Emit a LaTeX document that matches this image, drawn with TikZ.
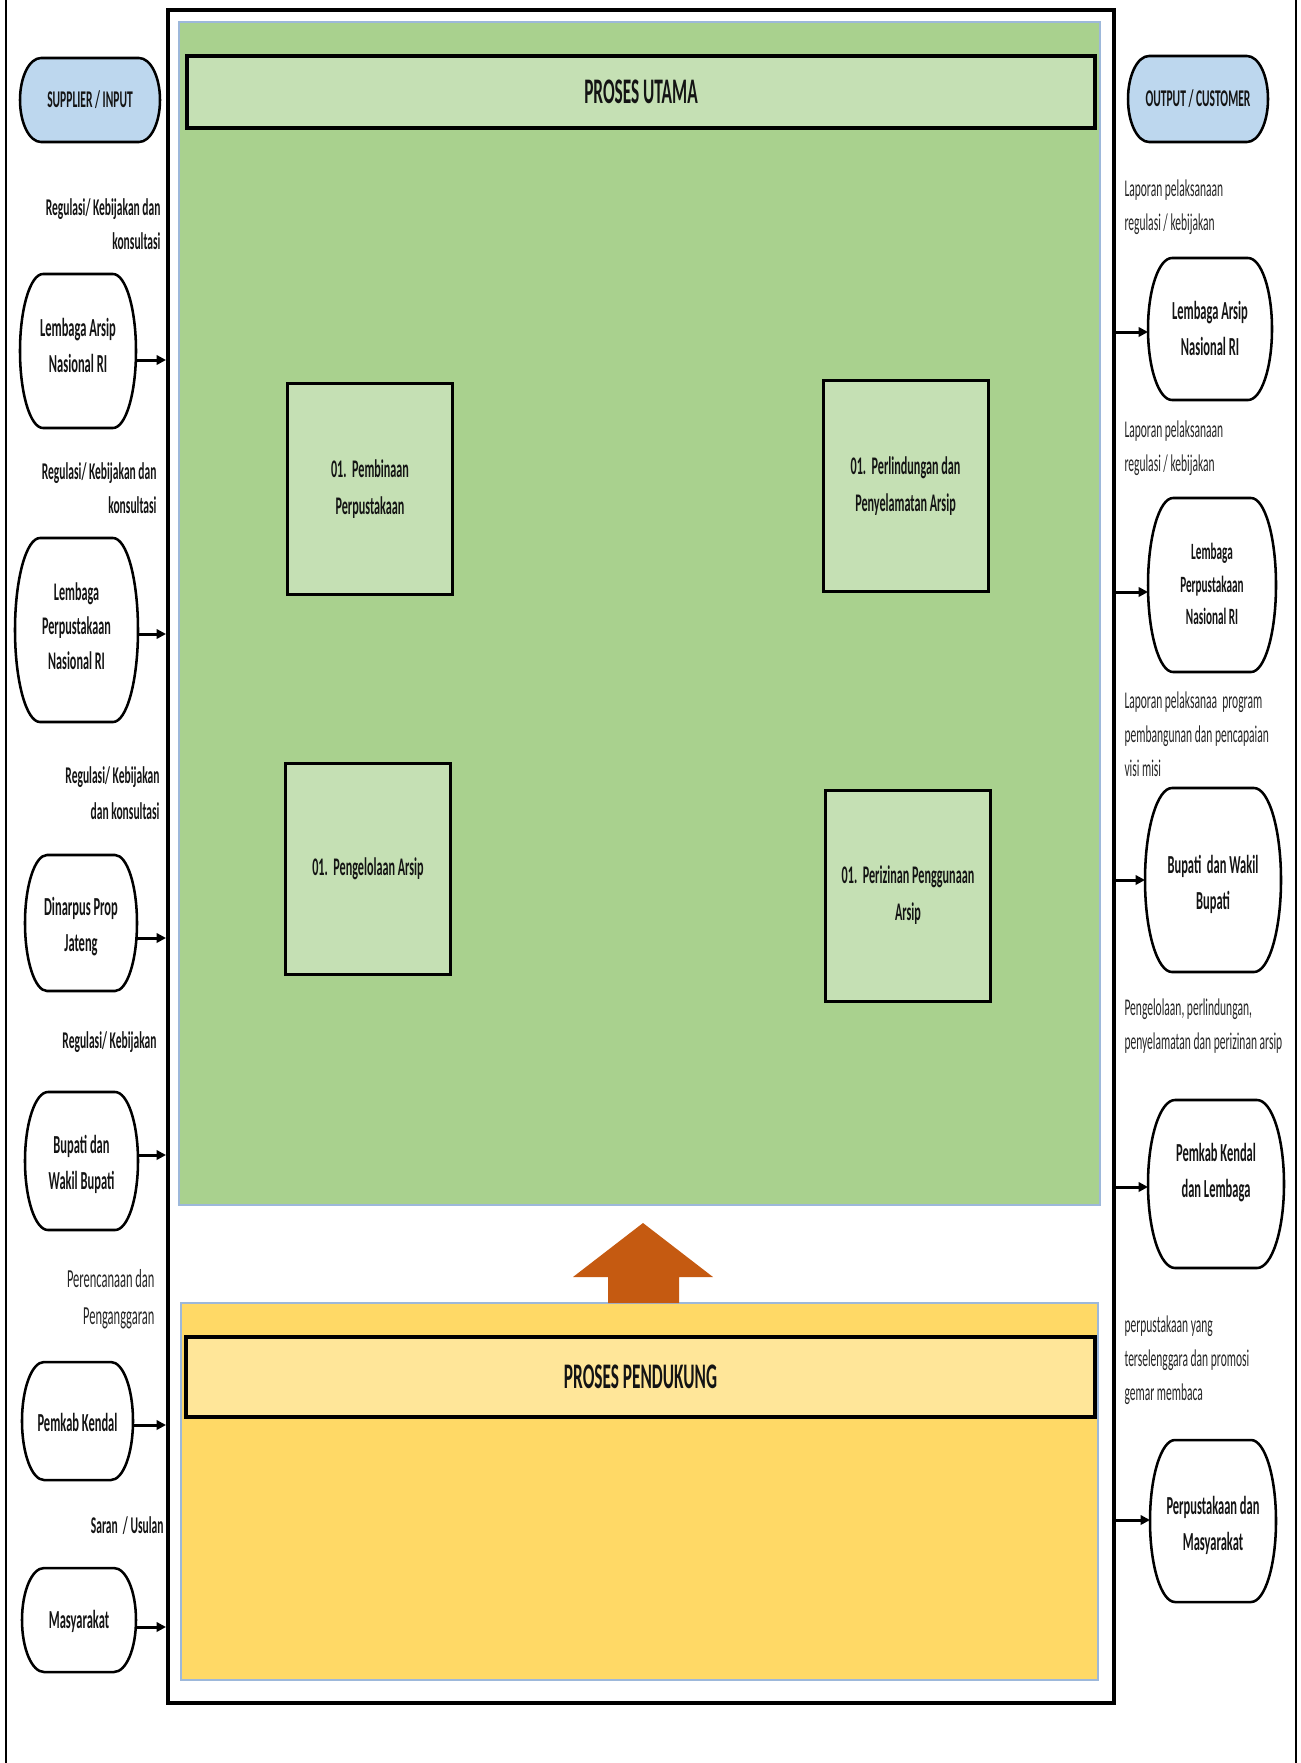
\documentclass[tikz,border=0pt]{standalone}
\usepackage{fontspec}
\setmainfont{Carlito}[FakeStretch=0.48]
\usetikzlibrary{arrows.meta}

\definecolor{areaGreen}{HTML}{A9D18E}
\definecolor{lightGreen}{HTML}{C5E0B4}
\definecolor{areaYellow}{HTML}{FFD966}
\definecolor{lightYellow}{HTML}{FFE699}
\definecolor{termBlue}{HTML}{BDD7EE}
\definecolor{upOrange}{HTML}{C55A11}
\definecolor{edgeBlue}{HTML}{9DB8DA}
\definecolor{noteGray}{HTML}{262626}

\tikzset{every picture/.style={line width=0.75pt}}
\tikzset{
  termline/.style={draw=black, line width=1.9pt, fill=white},
  termtext/.style={inner sep=0pt, outer sep=0pt, align=center, text=black!92, font=\bfseries\fontsize{19.5}{27}\selectfont},
  procbox/.style={draw=black, line width=2.25pt, fill=lightGreen, minimum width=123.75pt, minimum height=158.25pt, inner sep=0pt, align=center, text=black!92, font=\bfseries\fontsize{19}{27.75}\selectfont},
  hdr/.style={draw=black, line width=3pt, inner sep=0pt, text=black!92, font=\bfseries\fontsize{27}{32}\selectfont},
  inlbl/.style={anchor=east, inner sep=0pt, align=right, text=black!92, font=\bfseries\fontsize{18}{26}\selectfont},
  outlbl/.style={anchor=west, inner sep=0pt, align=left, text=noteGray, font=\fontsize{18}{25.5}\selectfont},
  flow/.style={-{Triangle[length=7pt,width=7pt]}, line width=2.25pt}
}

\begin{document}
\begin{tikzpicture}[x=0.75pt,y=0.75pt,yscale=-1,xscale=1]
\useasboundingbox (0,0) rectangle (1301,1763);

%Straight Lines
\draw [line width=1.5pt]   (6,0) -- (6,1763) ;
%Straight Lines
\draw [line width=1.5pt]   (1296,0) -- (1296,1763) ;
%Shape: Rectangle
\draw [line width=3pt]   (168,10) rectangle (1114,1703) ;
%Shape: Rectangle
\draw [draw=edgeBlue, fill=areaGreen, line width=1pt]   (179,22) rectangle (1100,1205) ;
%Shape: Rectangle
\draw [draw=edgeBlue, fill=areaYellow, line width=1pt]   (181,1303) rectangle (1098,1680) ;
%Shape: Arrow
\fill [upOrange]   (608,1303) -- (608,1277) -- (573,1277) -- (643,1223) -- (713,1277) -- (679,1277) -- (679,1303) -- cycle ;

% Header Node
\node [hdr, fill=lightGreen, minimum width=681pt, minimum height=54pt] (hdrUtama) at (641,92) {PROSES UTAMA};
% Header Node
\node [hdr, fill=lightYellow, minimum width=681.75pt, minimum height=60pt] (hdrPendukung) at (640.5,1377) {PROSES PENDUKUNG};

% Process Node
\node [procbox] (bxPembinaan) at (370,489) {01.\ \ Pembinaan\\Perpustakaan};
% Process Node
\node [procbox] (bxPerlindungan) at (905.5,486) {01.\ \ Perlindungan dan\\Penyelamatan Arsip};
% Process Node
\node [procbox] (bxPengelolaan) at (368,869) {01.\ \ Pengelolaan Arsip};
% Process Node
\node [procbox] (bxPerizinan) at (908,895.5) {01.\ \ Perizinan Penggunaan\\Arsip};

%Flowchart: Terminator
\draw [termline, fill=termBlue]   (41,58) -- (139,58) arc[start angle=-90, end angle=90, x radius=21, y radius=42] -- (41,142) arc[start angle=90, end angle=270, x radius=21, y radius=42] -- cycle ;
%Flowchart: Terminator
\draw [termline]   (43,274) -- (113,274) arc[start angle=-90, end angle=90, x radius=23, y radius=77] -- (43,428) arc[start angle=90, end angle=270, x radius=23, y radius=77] -- cycle ;
%Flowchart: Terminator
\draw [termline]   (40,538) -- (113,538) arc[start angle=-90, end angle=90, x radius=25, y radius=92] -- (40,722) arc[start angle=90, end angle=270, x radius=25, y radius=92] -- cycle ;
%Flowchart: Terminator
\draw [termline]   (47,855) -- (115,855) arc[start angle=-90, end angle=90, x radius=22, y radius=68] -- (47,991) arc[start angle=90, end angle=270, x radius=22, y radius=68] -- cycle ;
%Flowchart: Terminator
\draw [termline]   (48,1092) -- (115,1092) arc[start angle=-90, end angle=90, x radius=23, y radius=69] -- (48,1230) arc[start angle=90, end angle=270, x radius=23, y radius=69] -- cycle ;
%Flowchart: Terminator
\draw [termline]   (44,1362) -- (111,1362) arc[start angle=-90, end angle=90, x radius=22, y radius=59] -- (44,1480) arc[start angle=90, end angle=270, x radius=22, y radius=59] -- cycle ;
%Flowchart: Terminator
\draw [termline]   (44,1568) -- (114,1568) arc[start angle=-90, end angle=90, x radius=22, y radius=52] -- (44,1672) arc[start angle=90, end angle=270, x radius=22, y radius=52] -- cycle ;

%Flowchart: Terminator
\draw [termline, fill=termBlue]   (1149,56) -- (1247,56) arc[start angle=-90, end angle=90, x radius=21, y radius=43] -- (1149,142) arc[start angle=90, end angle=270, x radius=21, y radius=43] -- cycle ;
%Flowchart: Terminator
\draw [termline]   (1172,258) -- (1248,258) arc[start angle=-90, end angle=90, x radius=24, y radius=71] -- (1172,400) arc[start angle=90, end angle=270, x radius=24, y radius=71] -- cycle ;
%Flowchart: Terminator
\draw [termline]   (1173,498) -- (1251,498) arc[start angle=-90, end angle=90, x radius=25, y radius=87] -- (1173,672) arc[start angle=90, end angle=270, x radius=25, y radius=87] -- cycle ;
%Flowchart: Terminator
\draw [termline]   (1172,788) -- (1254,788) arc[start angle=-90, end angle=90, x radius=27, y radius=92] -- (1172,972) arc[start angle=90, end angle=270, x radius=27, y radius=92] -- cycle ;
%Flowchart: Terminator
\draw [termline]   (1175,1100) -- (1257,1100) arc[start angle=-90, end angle=90, x radius=27, y radius=84] -- (1175,1268) arc[start angle=90, end angle=270, x radius=27, y radius=84] -- cycle ;
%Flowchart: Terminator
\draw [termline]   (1175,1440) -- (1251,1440) arc[start angle=-90, end angle=90, x radius=25, y radius=81] -- (1175,1602) arc[start angle=90, end angle=270, x radius=25, y radius=81] -- cycle ;

% Supplier Nodes
\node [termtext, minimum width=105pt, minimum height=63pt, font=\bfseries\fontsize{18}{27}\selectfont] (inSupplier) at (90,100) {SUPPLIER / INPUT};
\node [termtext, minimum width=87pt, minimum height=115.5pt] (inLanri) at (78,345) {Lembaga Arsip\\Nasional RI};
\node [termtext, minimum width=92.25pt, minimum height=138pt, font=\bfseries\fontsize{19}{26}\selectfont] (inLpnri) at (76.5,626) {Lembaga\\Perpustakaan\\Nasional RI};
\node [termtext, minimum width=84pt, minimum height=102pt] (inDinarpus) at (81,927) {Dinarpus Prop\\Jateng};
\node [termtext, minimum width=84.75pt, minimum height=103.5pt] (inBupati) at (81.5,1164) {Bupati dan\\Wakil Bupati};
\node [termtext, minimum width=83.25pt, minimum height=88.5pt] (inPemkab) at (77.5,1422) {Pemkab Kendal};
\node [termtext, minimum width=85.5pt, minimum height=78pt] (inMasyarakat) at (79,1621) {Masyarakat};

% Customer Nodes
\node [termtext, minimum width=105pt, minimum height=64.5pt, font=\bfseries\fontsize{18}{27}\selectfont] (outCustomer) at (1198,99) {OUTPUT / CUSTOMER};
\node [termtext, minimum width=93pt, minimum height=106.5pt] (outLanri) at (1210,328) {Lembaga Arsip\\Nasional RI};
\node [termtext, minimum width=96pt, minimum height=130.5pt, font=\bfseries\fontsize{17.5}{24.4}\selectfont] (outLpnri) at (1212,584) {Lembaga\\Perpustakaan\\Nasional RI};
\node [termtext, minimum width=102pt, minimum height=138pt] (outBupati) at (1213,884.5) {Bupati\ \ dan Wakil\\Bupati};
\node [termtext, minimum width=102pt, minimum height=126pt] (outPemkab) at (1216,1173) {Pemkab Kendal\\dan Lembaga};
\node [termtext, minimum width=94.5pt, minimum height=121.5pt] (outPerpus) at (1213,1525) {Perpustakaan dan\\Masyarakat};

% Text Node
\node [inlbl] (lblIn1) at (161,224) {Regulasi/ Kebijakan dan\\konsultasi};
% Text Node
\node [inlbl] (lblIn2) at (157,488) {Regulasi/ Kebijakan dan\\konsultasi};
% Text Node
\node [inlbl, font=\bfseries\fontsize{18}{27}\selectfont] (lblIn3) at (160,793) {Regulasi/ Kebijakan\\dan konsultasi};
% Text Node
\node [inlbl] (lblIn4) at (157,1042) {Regulasi/ Kebijakan};
% Text Node
\node [inlbl, text=noteGray, font=\fontsize{19.5}{27.75}\selectfont] (lblIn5) at (155,1299) {Perencanaan dan\\Penganggaran};
% Text Node
\node [inlbl] (lblIn6) at (164,1525.5) {Saran\ \ / Usulan};

% Text Node
\node [outlbl] (lblOut1) at (1124,207) {Laporan pelaksanaan\\regulasi / kebijakan};
% Text Node
\node [outlbl] (lblOut2) at (1124,448.5) {Laporan pelaksanaan\\regulasi / kebijakan};
% Text Node
\node [outlbl] (lblOut3) at (1124,734) {Laporan pelaksanaa\ \ program\\pembangunan dan pencapaian\\visi misi};
% Text Node
\node [outlbl] (lblOut4) at (1124,1026.5) {Pengelolaan, perlindungan,\\penyelamatan dan perizinan arsip};
% Text Node
\node [outlbl] (lblOut5) at (1124,1360.5) {perpustakaan yang\\terselenggara dan promosi\\gemar membaca};

% Frame entry points
\coordinate (inLanriIn) at (166,360);
\coordinate (inLpnriIn) at (166,634);
\coordinate (inDinarpusIn) at (166,938);
\coordinate (inBupatiIn) at (166,1155);
\coordinate (inPemkabIn) at (166,1425);
\coordinate (inMasyarakatIn) at (166,1627);
\coordinate (outLanriOut) at (1116,332);
\coordinate (outLpnriOut) at (1116,592);
\coordinate (outBupatiOut) at (1116,880);
\coordinate (outPemkabOut) at (1116,1187);
\coordinate (outPerpusOut) at (1116,1520);

%Straight Lines
\draw [flow]   (inLanri.east |- inLanriIn) -- (inLanriIn) ;
\draw [flow]   (inLpnri.east |- inLpnriIn) -- (inLpnriIn) ;
\draw [flow]   (inDinarpus.east |- inDinarpusIn) -- (inDinarpusIn) ;
\draw [flow]   (inBupati.east |- inBupatiIn) -- (inBupatiIn) ;
\draw [flow]   (inPemkab.east |- inPemkabIn) -- (inPemkabIn) ;
\draw [flow]   (inMasyarakat.east |- inMasyarakatIn) -- (inMasyarakatIn) ;
%Straight Lines
\draw [flow]   (outLanriOut) -- (outLanri.west |- outLanriOut) ;
\draw [flow]   (outLpnriOut) -- (outLpnri.west |- outLpnriOut) ;
\draw [flow]   (outBupatiOut) -- (outBupati.west |- outBupatiOut) ;
\draw [flow]   (outPemkabOut) -- (outPemkab.west |- outPemkabOut) ;
\draw [flow]   (outPerpusOut) -- (outPerpus.west |- outPerpusOut) ;

\end{tikzpicture}
\end{document}
